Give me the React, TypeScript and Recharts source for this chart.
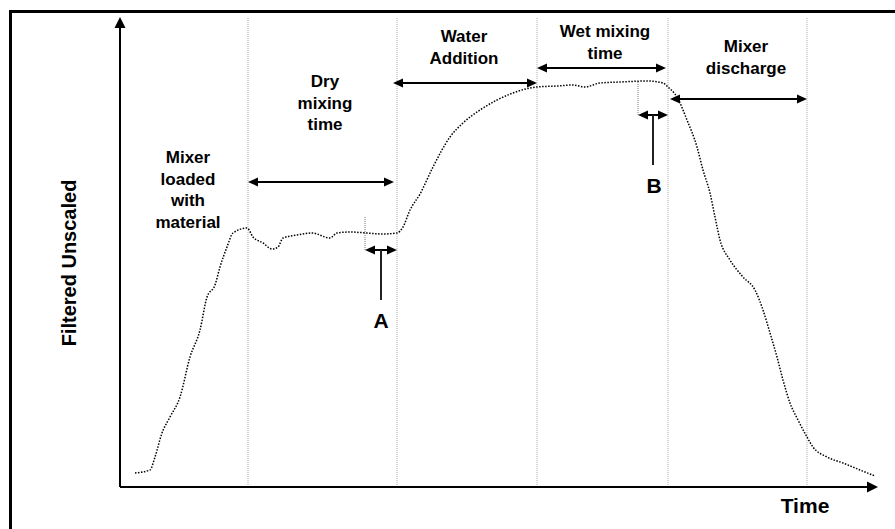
import React from "react";
import { LineChart, Line, XAxis, YAxis, ReferenceLine, ReferenceDot } from "recharts";

// sensor trace (time in px-ish units, unscaled signal)
const timeValues = [
  15, 30, 35, 42, 50, 60, 70, 80, 87, 95, 100, 107, 113, 127, 133, 143, 152, 158, 163, 177,
  192, 210, 217, 230, 247, 263, 277, 283, 290, 300, 313, 330, 343, 360, 377, 393, 410, 417,
  437, 453, 465, 480, 500, 527, 543, 548, 557, 567, 577, 583, 590, 595, 600, 610, 623, 635,
  643, 650, 657, 663, 670, 678, 687, 693, 707, 723, 740, 755,
];
const signalValues = [
  14, 17, 30, 54, 70, 90, 130, 157, 190, 202, 220, 240, 254, 259, 250, 244, 238, 240, 249, 252,
  254, 249, 254, 255, 254, 253, 254, 260, 277, 293, 320, 350, 364, 377, 387, 394, 399, 400,
  401, 402, 400, 404, 405, 406, 404, 400, 390, 367, 340, 317, 294, 270, 247, 227, 210, 197,
  177, 154, 130, 107, 84, 67, 50, 40, 30, 24, 17, 11,
];

const phaseBoundaries = [128, 277, 417, 548, 687];

const phaseArrows = [
  { from: 128, to: 274, level: 305 },
  { from: 273, to: 417, level: 404 },
  { from: 417, to: 546, level: 419 },
  { from: 550, to: 687, level: 388 },
  { from: 245, to: 277, level: 237 },
  { from: 518, to: 548, level: 372 },
];

const markerTicks = [
  { t: 245, from: 237, to: 271 },
  { t: 518, from: 372, to: 405 },
];

const pointers = [
  { t: 261, from: 187, to: 237 },
  { t: 533, from: 322, to: 372 },
];

const phaseLabels = [
  { t: 68, v: 324, lines: ["Mixer", "loaded", "with", "material"] },
  { t: 205, v: 400, lines: ["Dry", "mixing", "time"] },
  { t: 344, v: 445, lines: ["Water", "Addition"] },
  { t: 485, v: 450, lines: ["Wet mixing", "time"] },
  { t: 626, v: 435, lines: ["Mixer", "discharge"] },
];

const pointLabels = [
  { t: 261, v: 159, text: "A" },
  { t: 534, v: 294, text: "B" },
];

const data = timeValues.map((t, i) => ({ t, signal: signalValues[i] }));

const FONT = "Liberation Sans, Arial, sans-serif";

function headPoints(tx: number, ty: number, ux: number, uy: number, len: number, half: number) {
  const bx = tx - ux * len;
  const by = ty - uy * len;
  return `${tx},${ty} ${bx - uy * half},${by + ux * half} ${bx + uy * half},${by - ux * half}`;
}

const makeArrow = (both: boolean, headLen: number, half: number, sw: number) => (props: any) => {
  const { x1, y1, x2, y2 } = props;
  const len = Math.hypot(x2 - x1, y2 - y1) || 1;
  const ux = (x2 - x1) / len;
  const uy = (y2 - y1) / len;
  const sx = both ? x1 + ux * headLen * 0.7 : x1;
  const sy = both ? y1 + uy * headLen * 0.7 : y1;
  return (
    <g>
      <line
        x1={sx}
        y1={sy}
        x2={x2 - ux * headLen * 0.7}
        y2={y2 - uy * headLen * 0.7}
        stroke="#000"
        strokeWidth={sw}
      />
      <polygon points={headPoints(x2, y2, ux, uy, headLen, half)} fill="#000" />
      {both && <polygon points={headPoints(x1, y1, -ux, -uy, headLen, half)} fill="#000" />}
    </g>
  );
};

const axisArrow = makeArrow(false, 11, 5.5, 2);
const phaseArrow = makeArrow(true, 10, 4.5, 2);

const multiLine = (lines: string[]) => (props: any) => (
  <text
    x={props.cx}
    y={props.cy}
    textAnchor="middle"
    fontFamily={FONT}
    fontWeight="bold"
    fontSize={17}
    fill="#000"
  >
    {lines.map((ln, i) => (
      <tspan key={i} x={props.cx} dy={i === 0 ? 0 : 21.7}>
        {ln}
      </tspan>
    ))}
  </text>
);

const bigText = (text: string, size: number, rotate = false) => (props: any) => (
  <text
    x={props.cx}
    y={props.cy}
    textAnchor="middle"
    fontFamily={FONT}
    fontWeight="bold"
    fontSize={size}
    fill="#000"
    transform={rotate ? `rotate(-90, ${props.cx}, ${props.cy})` : undefined}
  >
    {text}
  </text>
);

export default function App() {
  return (
    <div
      style={{
        position: "absolute",
        left: 0,
        top: 0,
        width: 895,
        height: 529,
        background: "#fff",
        overflow: "hidden",
      }}
    >
      <div
        style={{
          position: "absolute",
          left: 9,
          top: 10,
          right: -10,
          bottom: -10,
          borderTop: "3px solid #000",
          borderLeft: "3px solid #000",
        }}
      />
      <div style={{ position: "absolute", left: 0, top: 0 }}>
        <LineChart
          width={895}
          height={529}
          data={data}
          margin={{ top: 17, right: 17, bottom: 42, left: 120 }}
        >
          <XAxis dataKey="t" type="number" domain={[0, 758]} hide />
          <YAxis type="number" domain={[0, 470]} hide />

          {phaseBoundaries.map((x) => (
            <ReferenceLine
              key={`b${x}`}
              x={x}
              stroke="#aaa"
              strokeDasharray="1 1"
              ifOverflow="visible"
            />
          ))}
          {markerTicks.map((m) => (
            <ReferenceLine
              key={`m${m.t}`}
              segment={[
                { x: m.t, y: m.from },
                { x: m.t, y: m.to },
              ]}
              stroke="#777"
              strokeDasharray="1 1"
              ifOverflow="visible"
            />
          ))}

          <Line
            type="monotone"
            dataKey="signal"
            stroke="#000"
            strokeWidth={1.5}
            strokeDasharray="1.5 1.5"
            dot={false}
            isAnimationActive={false}
          />

          <ReferenceLine
            segment={[
              { x: 0, y: 0 },
              { x: 758, y: 0 },
            ]}
            shape={axisArrow}
            ifOverflow="visible"
          />
          <ReferenceLine
            segment={[
              { x: 0, y: 0 },
              { x: 0, y: 470 },
            ]}
            shape={axisArrow}
            ifOverflow="visible"
          />

          {phaseArrows.map((a, i) => (
            <ReferenceLine
              key={`a${i}`}
              segment={[
                { x: a.from, y: a.level },
                { x: a.to, y: a.level },
              ]}
              shape={phaseArrow}
              ifOverflow="visible"
            />
          ))}
          {pointers.map((p) => (
            <ReferenceLine
              key={`p${p.t}`}
              segment={[
                { x: p.t, y: p.from },
                { x: p.t, y: p.to },
              ]}
              stroke="#222"
              strokeWidth={2}
              ifOverflow="visible"
            />
          ))}

          {phaseLabels.map((l, i) => (
            <ReferenceDot
              key={`l${i}`}
              x={l.t}
              y={l.v}
              r={0}
              shape={multiLine(l.lines)}
              ifOverflow="visible"
            />
          ))}
          {pointLabels.map((l) => (
            <ReferenceDot
              key={l.text}
              x={l.t}
              y={l.v}
              r={0}
              shape={bigText(l.text, 21)}
              ifOverflow="visible"
            />
          ))}
          <ReferenceDot x={685} y={-26} r={0} shape={bigText("Time", 21)} ifOverflow="visible" />
          <ReferenceDot
            x={-44}
            y={224}
            r={0}
            shape={bigText("Filtered Unscaled", 20, true)}
            ifOverflow="visible"
          />
        </LineChart>
      </div>
    </div>
  );
}
